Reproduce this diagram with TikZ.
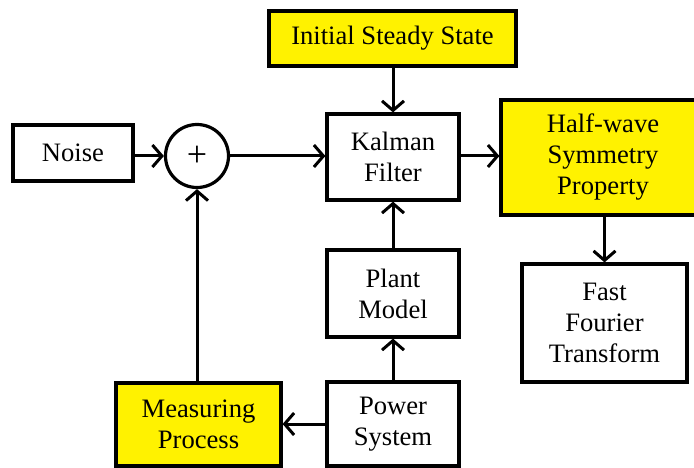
\documentclass[tikz,border=0pt]{standalone}
\usepackage{fontspec}
\setmainfont{Liberation Serif}
\usetikzlibrary{arrows.meta}
\tikzset{
  blockbox/.style={draw, line width=3.2pt, fill=white, align=center,
    inner sep=0pt, font=\fontsize{26.6}{31}\selectfont},
  hilite/.style={blockbox, fill=yellow},
  arr/.style={line width=3pt, -{Straight Barb[length=9.5pt,width=22pt]}},
  plainline/.style={line width=3pt}
}
\begin{document}
\begin{tikzpicture}[x=1pt,y=-1pt]
\useasboundingbox (0,0) rectangle (694,468);
\clip (0,0) rectangle (694,468);
\fill[white] (0,0) rectangle (694,468);

% blocks
\node[hilite, minimum width=247pt, minimum height=55pt] (init) at (392.5,38.5) {Initial Steady State};
\node[blockbox, minimum width=120pt, minimum height=56pt] (noise) at (73,153) {Noise};
\node[draw, circle, line width=3.2pt, minimum size=63pt, inner sep=0pt,
      font=\fontsize{36}{36}\selectfont] (sum) at (197,156) {+};
\node[blockbox, minimum width=132pt, minimum height=86pt] (kalman) at (393,157) {Kalman\\Filter};
\node[hilite, minimum width=204pt, minimum height=115pt] (half) at (603,157.5) {Half-wave\\Symmetry\\Property};
\node[blockbox, minimum width=132pt, minimum height=87pt] (plant) at (393,293.5) {Plant\\Model};
\node[blockbox, minimum width=165pt, minimum height=118pt] (fft) at (604.5,323) {Fast\\Fourier\\Transform};
\node[hilite, minimum width=165pt, minimum height=83pt] (meas) at (198.5,424.5) {Measuring\\Process};
\node[blockbox, minimum width=132pt, minimum height=84pt] (power) at (393,424) {Power\\System};

% connectors
\draw[arr] (noise.east |- sum) -- (sum.west);
\draw[arr] (sum.east) -- (kalman.west |- sum);
\draw[arr] (init.south -| kalman.north) -- (kalman.north);
\draw[arr] (kalman.east |- sum) -- (half.west |- sum);
\draw[arr] (half.south -| fft.north) -- (fft.north);
\draw[arr] (plant.north) -- (kalman.south);
\draw[arr] (power.north) -- (plant.south);
\draw[arr] (power.west) -- (meas.east |- power.west);
\draw[arr] (meas.north -| sum.south) -- (sum.south);
\end{tikzpicture}
\end{document}
